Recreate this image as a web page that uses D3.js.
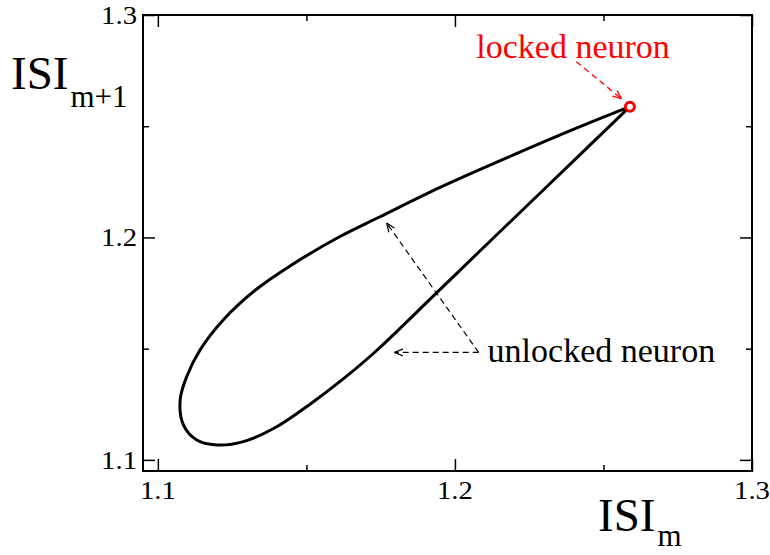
<!DOCTYPE html>
<html>
<head>
<meta charset="utf-8">
<script src="https://cdn.jsdelivr.net/npm/d3@7"></script>
<style>
  html, body { margin: 0; padding: 0; background: #fff; }
  svg { display: block; }
  text { font-family: "Liberation Serif", "Times New Roman", serif; }
</style>
</head>
<body>
<svg id="chart" width="770" height="555"></svg>
<script>
// Return map ISI_{m+1} vs ISI_m: closed orbit of the unlocked neuron,
// starting and ending at the fixed point of the locked neuron.
const loopX = [1.2589, 1.2421, 1.2197, 1.1950, 1.1748, 1.1613, 1.1445, 1.1333,
               1.1220, 1.1142, 1.1097, 1.1075, 1.1086, 1.1131, 1.1198, 1.1288,
               1.1400, 1.1518, 1.1624, 1.1731, 1.1939, 1.2084, 1.2309, 1.2589];
const loopY = [1.2588, 1.2498, 1.2371, 1.2225, 1.2093, 1.2004, 1.1872, 1.1768,
               1.1629, 1.1494, 1.1374, 1.1269, 1.1157, 1.1089, 1.1067, 1.1082,
               1.1149, 1.1256, 1.1364, 1.1485, 1.1752, 1.1939, 1.2228, 1.2588];

// Fixed point (locked neuron)
const lockedX = [1.2589];
const lockedY = [1.2588];

// Axis ticks
const majorTicks = [1.1, 1.2, 1.3];
const minorTicks = [1.15, 1.25];
const tickLabels = ["1.1", "1.2", "1.3"];

const svg = d3.select("#chart");
const mLeft = 143, mRight = 752, mTop = 15, mBottom = 471;

const x = d3.scaleLinear().domain([1.095, 1.3]).range([mLeft, mRight]);
const y = d3.scaleLinear().domain([1.095, 1.3]).range([mBottom, mTop]);

// Frame
svg.append("rect")
  .attr("x", mLeft).attr("y", mTop)
  .attr("width", mRight - mLeft).attr("height", mBottom - mTop)
  .attr("fill", "none").attr("stroke", "#000").attr("stroke-width", 2);

// Inward ticks on all four sides
function ticks(g, axisFn, scale, size, values) {
  g.call(axisFn(scale).tickValues(values).tickSize(size).tickFormat(() => ""));
  g.select(".domain").remove();
  g.selectAll(".tick line").attr("stroke", "#000").attr("stroke-width", 1.5);
}
const sides = [
  [d3.axisTop, x, `translate(0,${mBottom})`],
  [d3.axisBottom, x, `translate(0,${mTop})`],
  [d3.axisRight, y, `translate(${mLeft},0)`],
  [d3.axisLeft, y, `translate(${mRight},0)`]
];
sides.forEach(([fn, sc, tr]) => {
  ticks(svg.append("g").attr("transform", tr), fn, sc, 12, majorTicks);
  ticks(svg.append("g").attr("transform", tr), fn, sc, 6, minorTicks);
});

// Tick labels (slightly wide serif digits)
const stretch = 1.15;
svg.append("g").selectAll("text").data(majorTicks).join("text")
  .attr("transform", d => `translate(${x(d)},${mBottom + 28}) scale(${stretch},1)`)
  .attr("text-anchor", "middle").attr("font-size", 25)
  .text((d, i) => tickLabels[i]);
svg.append("g").selectAll("text").data(majorTicks).join("text")
  .attr("transform", d => `translate(${mLeft - 6},${y(d) + 9}) scale(${stretch},1)`)
  .attr("text-anchor", "end").attr("font-size", 25)
  .text((d, i) => tickLabels[i]);

// Axis titles
const xt = svg.append("text").attr("x", 598).attr("y", 531).attr("font-size", 47);
xt.append("tspan").text("ISI");
xt.append("tspan").attr("font-size", 31).attr("dx", 2).attr("dy", 15).text("m");

const yt = svg.append("text").attr("x", 11).attr("y", 89).attr("font-size", 47);
yt.append("tspan").text("ISI");
yt.append("tspan").attr("font-size", 31).attr("dx", 2).attr("dy", 18).text("m+1");

// Orbit
const pts = loopX.map((v, i) => [v, loopY[i]]);
svg.append("path")
  .attr("d", d3.line().x(d => x(d[0])).y(d => y(d[1])).curve(d3.curveCatmullRom.alpha(0.5))(pts))
  .attr("fill", "none").attr("stroke", "#000").attr("stroke-width", 3)
  .attr("stroke-linejoin", "round");

// Arrowheads
const defs = svg.append("defs");
function marker(id, color) {
  defs.append("marker").attr("id", id)
    .attr("viewBox", "0 0 10 10").attr("refX", 10).attr("refY", 5)
    .attr("markerWidth", 9).attr("markerHeight", 9).attr("markerUnits", "userSpaceOnUse")
    .attr("orient", "auto")
    .append("path").attr("d", "M0,1 L10,5 L0,9")
    .attr("fill", "none").attr("stroke", color).attr("stroke-width", 1.4);
}
marker("arrRed", "#ff0000");
marker("arrBlack", "#000");

// Locked neuron annotation
svg.append("line")
  .attr("x1", x(1.2409)).attr("y1", y(1.2790))
  .attr("x2", x(1.2561)).attr("y2", y(1.2623))
  .attr("stroke", "#ff0000").attr("stroke-width", 1.3)
  .attr("stroke-dasharray", "6,4").attr("marker-end", "url(#arrRed)");
svg.append("text").attr("x", x(1.2072)).attr("y", y(1.2807))
  .attr("font-size", 34).attr("fill", "#ff0000").text("locked neuron");

// Unlocked neuron annotation
const ax0 = 1.2080, ay0 = 1.1483;
svg.append("line")
  .attr("x1", x(ax0)).attr("y1", y(ay0))
  .attr("x2", x(1.1796)).attr("y2", y(ay0))
  .attr("stroke", "#000").attr("stroke-width", 1.2)
  .attr("stroke-dasharray", "6,4").attr("marker-end", "url(#arrBlack)");
svg.append("line")
  .attr("x1", x(ax0)).attr("y1", y(ay0))
  .attr("x2", x(1.1770)).attr("y2", y(1.2065))
  .attr("stroke", "#000").attr("stroke-width", 1.2)
  .attr("stroke-dasharray", "6,4").attr("marker-end", "url(#arrBlack)");
svg.append("text").attr("x", x(1.2110)).attr("y", y(1.1440))
  .attr("font-size", 34).attr("fill", "#000").text("unlocked neuron");

// Locked neuron fixed point
svg.selectAll("circle.locked").data(lockedX).join("circle")
  .attr("class", "locked")
  .attr("cx", d => x(d)).attr("cy", (d, i) => y(lockedY[i]))
  .attr("r", 4.5).attr("fill", "#fff")
  .attr("stroke", "#ff0000").attr("stroke-width", 3);
</script>
</body>
</html>
